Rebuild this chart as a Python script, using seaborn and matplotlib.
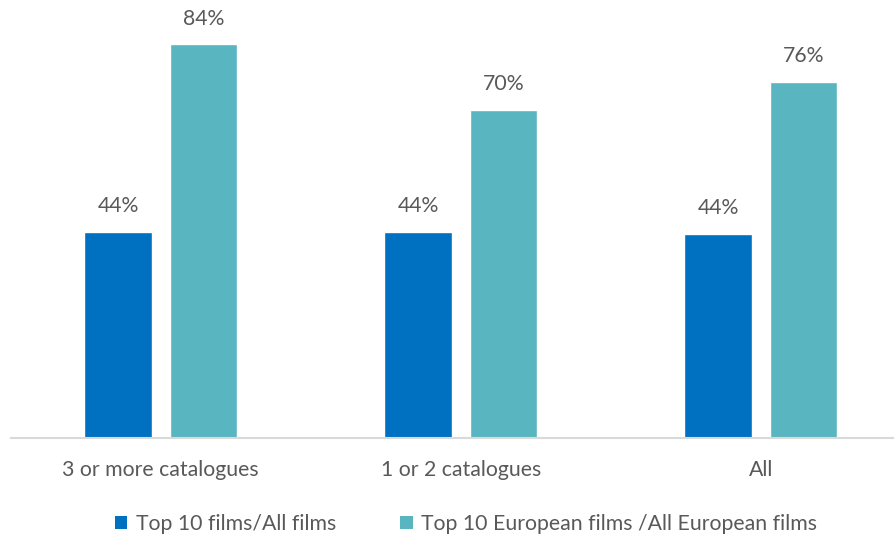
import matplotlib
matplotlib.use("Agg")
import matplotlib.pyplot as plt
import seaborn as sns
import pandas as pd
from matplotlib.patches import Patch

categories = ["3 or more catalogues", "1 or 2 catalogues", "All"]
series_names = ["Top 10 films/All films", "Top 10 European films /All European films"]
top10_all = [44.0, 44.0, 43.6]
top10_european = [84.0, 70.0, 76.0]
colors = ["#0070C0", "#59B6C0"]

df = pd.DataFrame({
    "category": categories * 2,
    "series": [series_names[0]] * 3 + [series_names[1]] * 3,
    "value": top10_all + top10_european,
})

sns.set_theme(style="white")
plt.rcParams["font.family"] = ["Lato", "DejaVu Sans"]
text_color = "#595959"
fs = 15.3

fig = plt.figure(figsize=(8.95, 5.37), dpi=100)
ax = fig.add_axes([10.75 / 895, 99 / 537, 900 / 895, 438 / 537])

sns.barplot(data=df, x="category", y="value", hue="series", order=categories,
            hue_order=series_names, palette=colors, width=0.57, gap=0.215,
            saturation=1, ax=ax, legend=False)

for cont in ax.containers:
    ax.bar_label(cont, fmt="{:.0f}%", padding=11, fontsize=fs, color=text_color)

ax.set_xlim(-0.5, 2.5)
ax.set_ylim(0, 438 / 4.69)
ax.set_xlabel("")
ax.set_ylabel("")
ax.set_yticks([])
for s in ["top", "right", "left"]:
    ax.spines[s].set_visible(False)
ax.spines["bottom"].set_color("#D9D9D9")
ax.spines["bottom"].set_linewidth(1.5)
ax.tick_params(axis="x", length=0, pad=16, labelsize=fs, colors=text_color)

handles = [Patch(facecolor=c, edgecolor="none") for c in colors]
fig.legend(handles, series_names, loc="center", bbox_to_anchor=(466 / 895, 1 - 524 / 537),
           ncol=2, frameon=False, fontsize=fs, labelcolor=text_color,
           handlelength=0.6, handleheight=0.6, handletextpad=0.4, columnspacing=3.0)

fig.savefig("out.png", dpi=100)
